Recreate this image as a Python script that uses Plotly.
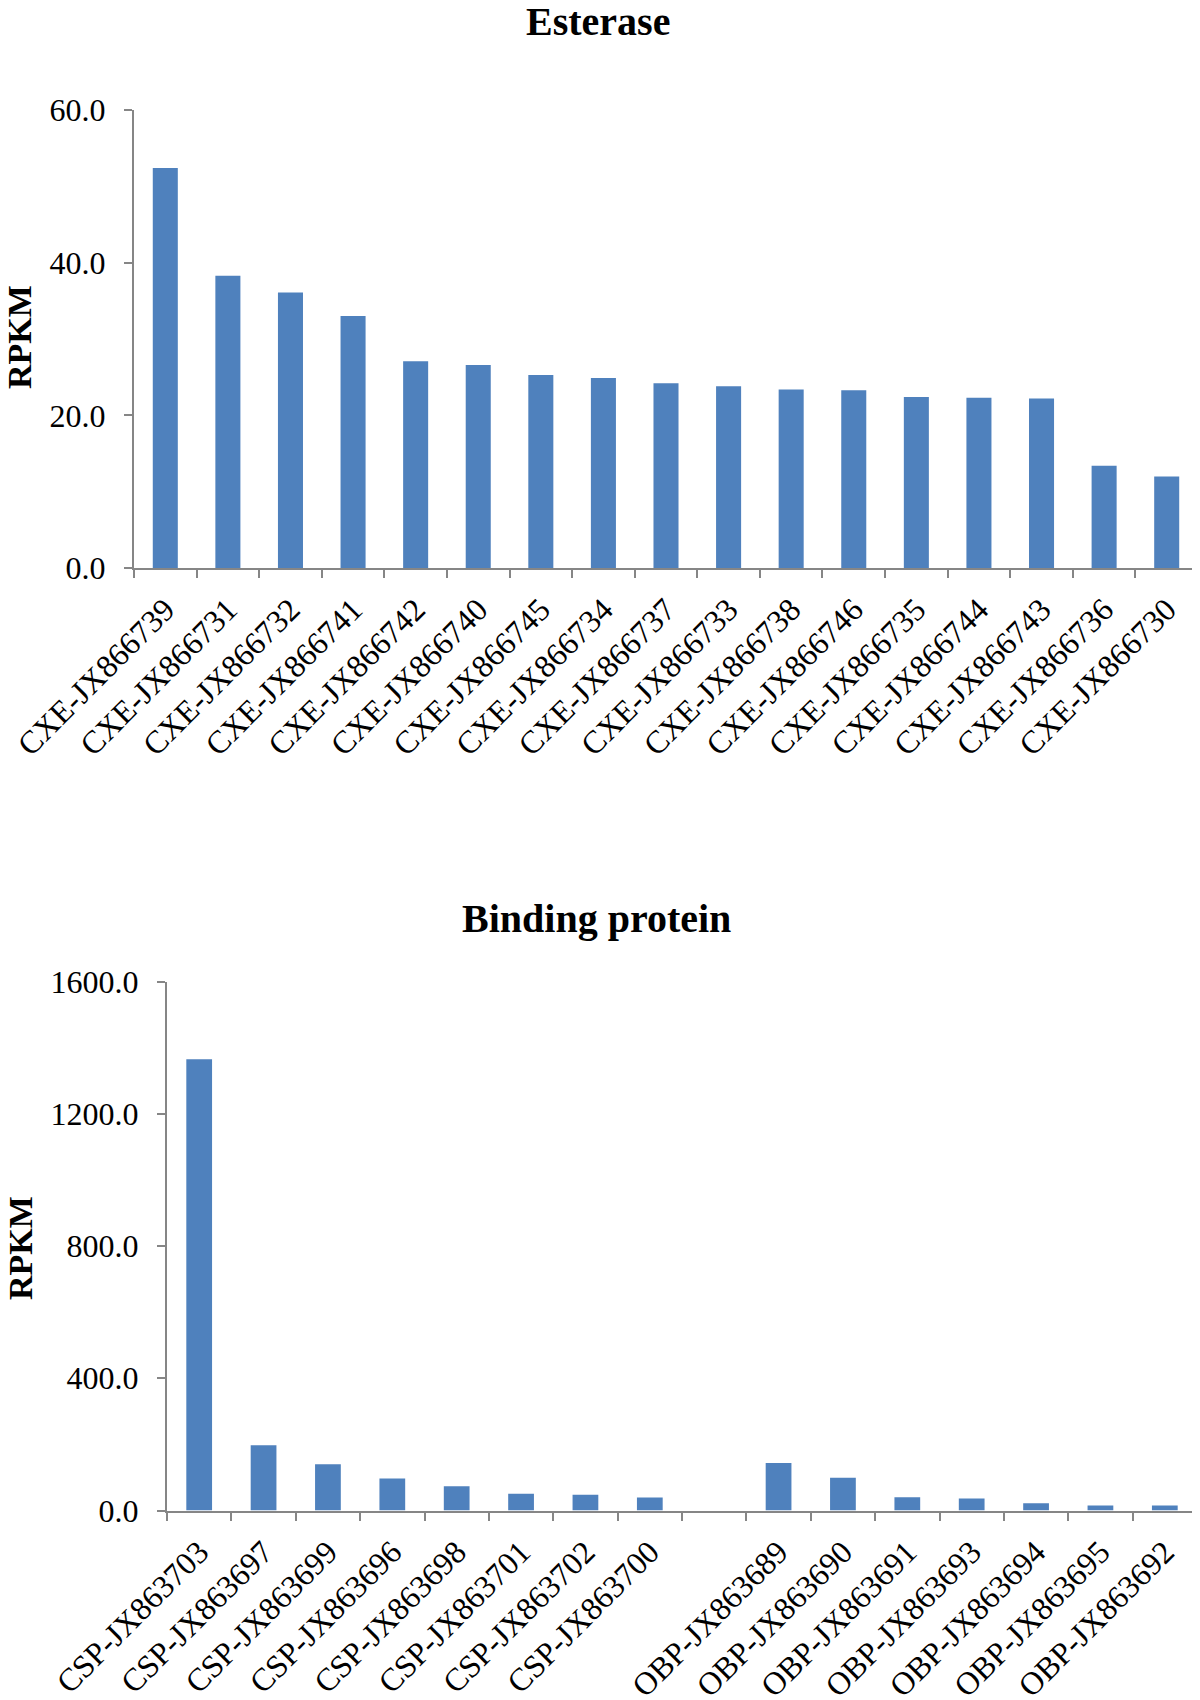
import plotly.graph_objects as go

# ---- data ----
cxe_labels = ["CXE-JX866739", "CXE-JX866731", "CXE-JX866732", "CXE-JX866741", "CXE-JX866742",
              "CXE-JX866740", "CXE-JX866745", "CXE-JX866734", "CXE-JX866737", "CXE-JX866733",
              "CXE-JX866738", "CXE-JX866746", "CXE-JX866735", "CXE-JX866744", "CXE-JX866743",
              "CXE-JX866736", "CXE-JX866730"]
cxe_values = [52.4, 38.3, 36.1, 33.0, 27.1, 26.6, 25.3, 24.9, 24.2, 23.8, 23.4, 23.3, 22.4, 22.3, 22.2, 13.4, 12.0]

csp_labels = ["CSP-JX863703", "CSP-JX863697", "CSP-JX863699", "CSP-JX863696",
              "CSP-JX863698", "CSP-JX863701", "CSP-JX863702", "CSP-JX863700"]
csp_values = [1365, 197, 140, 97, 73, 51, 48, 39]

obp_labels = ["OBP-JX863689", "OBP-JX863690", "OBP-JX863691", "OBP-JX863693",
              "OBP-JX863694", "OBP-JX863695", "OBP-JX863692"]
obp_values = [144, 99, 40, 36, 22, 15, 15]

y1_ticks = [0, 20, 40, 60]
y2_ticks = [0, 400, 800, 1200, 1600]

# ---- style ----
OFF = 8  # page body margin
W, H = 1200 - OFF, 1700 - OFF
BAR = "#4F81BD"
AX = "#868686"
FONT = "Liberation Serif"

bind_labels = csp_labels + [" "] + obp_labels
bind_values = csp_values + [None] + obp_values

fig = go.Figure()
fig.add_trace(go.Bar(x=cxe_labels, y=cxe_values, marker=dict(color=BAR, line=dict(width=0)),
                     xaxis="x", yaxis="y", showlegend=False))
fig.add_trace(go.Bar(x=bind_labels, y=bind_values, marker=dict(color=BAR, line=dict(width=0)),
                     xaxis="x2", yaxis="y2", showlegend=False))

def px_x(p):
    return (p - OFF) / W

def px_y(p):
    return 1 - (p - OFF) / H

xcommon = dict(type="category", showline=True, linecolor=AX, linewidth=2, automargin=False,
               ticks="outside", ticklen=8, tickwidth=2, tickcolor=AX, tickson="boundaries",
               tickangle=-45, tickfont=dict(family=FONT, size=32, color="black"),
               showgrid=False, zeroline=False, ticklabelstandoff=8, fixedrange=True)
ycommon = dict(showline=True, linecolor=AX, linewidth=2, ticks="outside", ticklen=8, automargin=False,
               tickwidth=2, tickcolor=AX, tickformat=".1f",
               tickfont=dict(family=FONT, size=32, color="black"),
               showgrid=False, zeroline=False, ticklabelstandoff=12)

fig.update_layout(
    width=W, height=H,
    margin=dict(l=0, r=0, t=0, b=0),
    paper_bgcolor="white", plot_bgcolor="white",
    bargap=0.6,
    xaxis=dict(xcommon, domain=[px_x(134), px_x(1198)], anchor="y"),
    yaxis=dict(ycommon, domain=[px_y(568), px_y(110)], range=[0, 60],
               tickvals=y1_ticks, anchor="x"),
    xaxis2=dict(xcommon, domain=[px_x(167), px_x(1197)], anchor="y2"),
    yaxis2=dict(ycommon, domain=[px_y(1510.5), px_y(981.5)], range=[0, 1600],
                tickvals=y2_ticks, anchor="x2"),
    annotations=[
        dict(text="<b>Esterase</b>", x=px_x(598), y=px_y(22), xref="paper", yref="paper",
             showarrow=False, font=dict(family=FONT, size=40, color="black"),
             xanchor="center", yanchor="middle"),
        dict(text="<b>Binding protein</b>", x=px_x(596), y=px_y(918), xref="paper", yref="paper",
             showarrow=False, font=dict(family=FONT, size=40, color="black"),
             xanchor="center", yanchor="middle"),
        dict(text="<b>RPKM</b>", x=px_x(20), y=px_y(337), xref="paper", yref="paper",
             showarrow=False, textangle=-90, font=dict(family=FONT, size=34, color="black"),
             xanchor="center", yanchor="middle"),
        dict(text="<b>RPKM</b>", x=px_x(20), y=px_y(1248), xref="paper", yref="paper",
             showarrow=False, textangle=-90, font=dict(family=FONT, size=34, color="black"),
             xanchor="center", yanchor="middle"),
    ],
)

fig.write_html("out.html")
